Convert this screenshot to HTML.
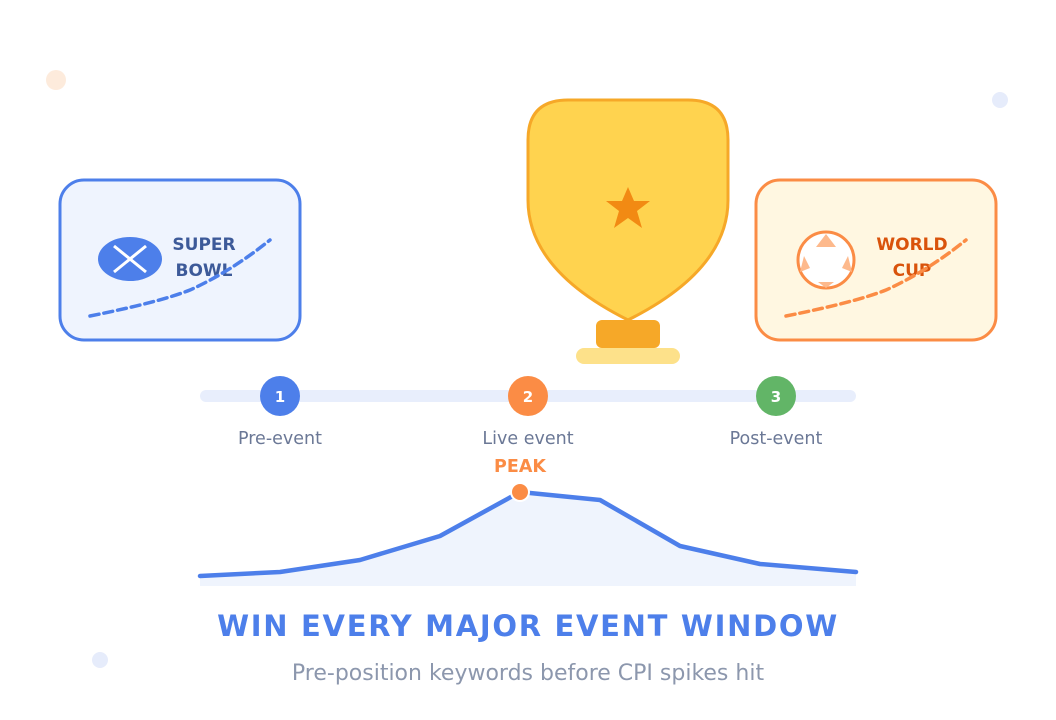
<!DOCTYPE html>
<html><head><meta charset="utf-8"><style>
html,body{margin:0;padding:0;background:#fff}
svg{display:block}
text{font-family:"DejaVu Sans","Liberation Sans",sans-serif}
</style></head><body>
<svg width="1056" height="720" viewBox="0 0 1056 720">
<circle cx="56" cy="80" r="10" fill="#fdebdc"/>
<circle cx="1000" cy="100" r="8" fill="#e6ecfb"/>
<circle cx="100" cy="660" r="8" fill="#e6ecfb"/>

<rect x="60" y="180" width="240" height="160" rx="24" fill="#eff4fe" stroke="#4d7fea" stroke-width="3"/>
<ellipse cx="130" cy="259" rx="32" ry="22" fill="#4d7fea"/>
<line x1="114" y1="246" x2="146" y2="272" stroke="#fff" stroke-width="3"/>
<line x1="146" y1="246" x2="114" y2="272" stroke="#fff" stroke-width="3"/>
<text x="204" y="250" font-size="17" font-weight="bold" fill="#3d5a99" text-anchor="middle">SUPER</text>
<text x="204" y="276" font-size="17" font-weight="bold" fill="#3d5a99" text-anchor="middle">BOWL</text>
<path d="M90,316 Q160,302 190,290 Q230,272 270,240" fill="none" stroke="#4d7fea" stroke-width="3.5" stroke-dasharray="9,5" stroke-linecap="round"/>

<rect x="756" y="180" width="240" height="160" rx="24" fill="#fff7e1" stroke="#fb8c45" stroke-width="3"/>
<circle cx="826" cy="260" r="28" fill="#fff" stroke="#fb8c45" stroke-width="3"/>
<polygon points="826,234 836,247 816,247" fill="#fdb98c"/>
<polygon points="848,256 852,272 842,268" fill="#fdb98c"/>
<polygon points="804,256 800,272 810,268" fill="#fdb98c"/>
<polygon points="818,282 834,282 826,288" fill="#fdb98c"/>
<text x="912" y="250" font-size="17" font-weight="bold" fill="#d9530b" text-anchor="middle">WORLD</text>
<text x="912" y="276" font-size="17" font-weight="bold" fill="#d9530b" text-anchor="middle">CUP</text>
<path d="M786,316 Q856,302 886,290 Q926,272 966,240" fill="none" stroke="#fb8c45" stroke-width="3.5" stroke-dasharray="9,5" stroke-linecap="round"/>

<path d="M568,100 H688 Q728,100 728,140 V200 Q728,270 628,320 Q528,270 528,200 V140 Q528,100 568,100 Z" fill="#ffd34f" stroke="#f6a828" stroke-width="3"/>
<polygon points="628,187 634,201 650,201 637,211 642,228 628,218 614,228 619,211 606,201 622,201" fill="#f28a13"/>
<rect x="596" y="320" width="64" height="28" rx="6" fill="#f6a828"/>
<rect x="576" y="348" width="104" height="16" rx="8" fill="#fde18a"/>

<rect x="200" y="390" width="656" height="12" rx="6" fill="#e8eefc"/>
<circle cx="280" cy="396" r="20" fill="#4d7fea"/>
<circle cx="528" cy="396" r="20" fill="#fb8c45"/>
<circle cx="776" cy="396" r="20" fill="#62b567"/>
<text x="280" y="402" font-size="15" font-weight="bold" fill="#fff" text-anchor="middle">1</text>
<text x="528" y="402" font-size="15" font-weight="bold" fill="#fff" text-anchor="middle">2</text>
<text x="776" y="402" font-size="15" font-weight="bold" fill="#fff" text-anchor="middle">3</text>
<text x="280" y="444" font-size="17.5" fill="#6b7896" text-anchor="middle">Pre-event</text>
<text x="528" y="444" font-size="17.5" fill="#6b7896" text-anchor="middle">Live event</text>
<text x="776" y="444" font-size="17.5" fill="#6b7896" text-anchor="middle">Post-event</text>

<path d="M200,576 L280,572 L360,560 L440,536 L520,492 L600,500 L680,546 L760,564 L856,572 L856,586 L200,586 Z" fill="#eff4fd"/>
<polyline points="200,576 280,572 360,560 440,536 520,492 600,500 680,546 760,564 856,572" fill="none" stroke="#4d7fea" stroke-width="4.5" stroke-linejoin="round" stroke-linecap="round"/>
<circle cx="520" cy="492" r="10" fill="#fff"/>
<circle cx="520" cy="492" r="8" fill="#fb8c45"/>
<text x="520" y="472" font-size="17.5" font-weight="bold" fill="#fb8c45" text-anchor="middle">PEAK</text>

<text x="528" y="636" font-size="29" font-weight="bold" fill="#4d7fea" text-anchor="middle" letter-spacing="1.7">WIN EVERY MAJOR EVENT WINDOW</text>
<text x="528" y="680" font-size="22" fill="#8c97ad" text-anchor="middle">Pre-position keywords before CPI spikes hit</text>
</svg>
</body></html>
